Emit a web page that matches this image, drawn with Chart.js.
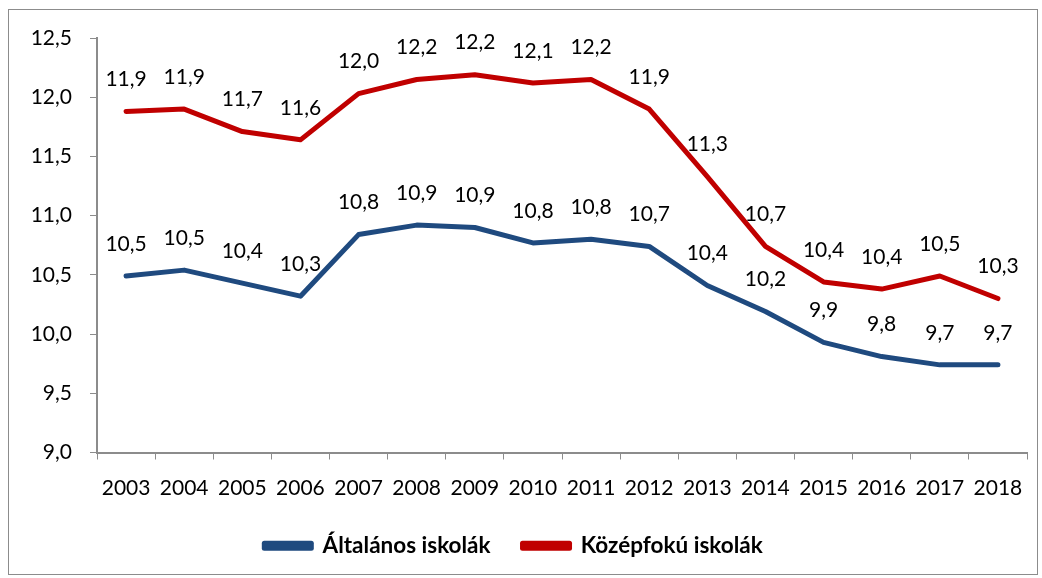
<!DOCTYPE html>
<html>
<head>
<meta charset="utf-8">
<script src="https://cdn.jsdelivr.net/npm/chart.js@4/dist/chart.umd.min.js"></script>
<style>
  html, body { margin: 0; padding: 0; background: #fff; }
  #wrap { position: relative; width: 1042px; height: 578px; }
  #frame { position: absolute; left: 8px; top: 9px; width: 1028px; height: 564px; border: 1px solid #8c8c8c; pointer-events: none; }
</style>
</head>
<body>
<div id="wrap">
  <canvas id="c" width="1042" height="578"></canvas>
  <div id="frame"></div>
</div>
<script>
const categories = ['2003','2004','2005','2006','2007','2008','2009','2010','2011','2012','2013','2014','2015','2016','2017','2018'];
const altalanos = [10.49,10.54,10.43,10.32,10.84,10.92,10.90,10.77,10.80,10.74,10.41,10.19,9.93,9.81,9.74,9.74];
const kozepfoku = [11.88,11.90,11.71,11.64,12.03,12.15,12.19,12.12,12.15,11.90,11.33,10.74,10.44,10.38,10.49,10.30];
const seriesNames = ['Általános iskolák','Középfokú iskolák'];
const yTicks = [9.0, 9.5, 10.0, 10.5, 11.0, 11.5, 12.0, 12.5];

const FONT = 'Lato, "Open Sans", sans-serif';
const fmt = v => v.toFixed(1).replace('.', ',');

const labelPlugin = {
  id: 'valueLabels',
  afterDatasetsDraw(chart) {
    const ctx = chart.ctx;
    ctx.save();
    ctx.font = '21px ' + FONT;
    ctx.fillStyle = '#000';
    ctx.textAlign = 'center';
    ctx.textBaseline = 'middle';
    chart.data.datasets.forEach((ds, i) => {
      const meta = chart.getDatasetMeta(i);
      meta.data.forEach((pt, j) => {
        ctx.fillText(fmt(ds.data[j]), pt.x, pt.y - 32);
      });
    });
    ctx.restore();
  }
};

new Chart(document.getElementById('c'), {
  type: 'line',
  data: {
    labels: categories,
    datasets: [
      { label: seriesNames[0], data: altalanos, borderColor: '#1F4A7F', backgroundColor: '#1F4A7F', borderWidth: 5, pointRadius: 0, tension: 0, borderCapStyle: 'round', borderJoinStyle: 'round' },
      { label: seriesNames[1], data: kozepfoku, borderColor: '#C00000', backgroundColor: '#C00000', borderWidth: 5, pointRadius: 0, tension: 0, borderCapStyle: 'round', borderJoinStyle: 'round' }
    ]
  },
  options: {
    responsive: false,
    animation: false,
    devicePixelRatio: 1,
    layout: { padding: { left: 0, right: 15, top: 38, bottom: 11 } },
    plugins: {
      legend: {
        position: 'bottom',
        labels: {
          boxWidth: 47, boxHeight: 5, padding: 32,
          color: '#000',
          font: { family: FONT, size: 22.5, weight: 'bold' }
        }
      },
      tooltip: { enabled: false }
    },
    scales: {
      x: {
        type: 'category',
        offset: true,
        grid: { display: true, drawOnChartArea: false, offset: true, tickLength: 7, color: '#8c8c8c', lineWidth: 1 },
        border: { display: true, color: '#8c8c8c', width: 2 },
        ticks: { color: '#000', font: { family: FONT, size: 21 }, maxRotation: 0, autoSkip: false, padding: 16 },
        afterFit(scale) { scale.height = 50; }
      },
      y: {
        min: 9, max: 12.5,
        afterBuildTicks(scale) { scale.ticks = yTicks.map(v => ({ value: v })); },
        grid: { display: true, drawOnChartArea: false, tickLength: 7, color: '#8c8c8c' },
        border: { display: true, color: '#8c8c8c', width: 2 },
        ticks: { color: '#000', font: { family: FONT, size: 21 }, padding: 18, callback: v => fmt(v) },
        afterFit(scale) { scale.width = 97; }
      }
    }
  },
  plugins: [labelPlugin]
});
</script>
</body>
</html>
